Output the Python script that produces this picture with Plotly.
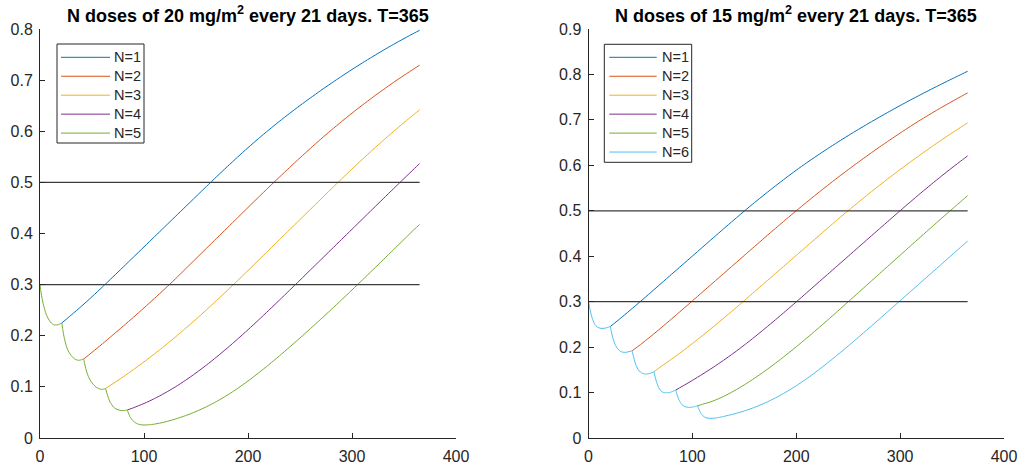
import plotly.graph_objects as go

# ---------------- data ----------------
COLORS = ["#0072BD", "#D95319", "#EDB120", "#7E2F8E", "#77AC30", "#4DBEEE"]
THRESH = [0.3, 0.5]
THRESH_T = [0, 365]
SEG_OFFSETS = [0, 1, 2, 3, 4, 5, 6, 8, 10, 12, 14, 16, 18, 20, 21]

# ---- left chart: 20 mg/m2 ----
L_DOSE_DAYS = [0, 21, 42, 63, 84]
L_SEG1 = [0.300, 0.285, 0.273, 0.263, 0.255, 0.248, 0.242, 0.233, 0.227, 0.223, 0.221, 0.221, 0.222, 0.224, 0.225]
L_SEG2 = [0.225, 0.211, 0.199, 0.190, 0.182, 0.176, 0.171, 0.164, 0.159, 0.155, 0.153, 0.152, 0.1525, 0.154, 0.1545]
L_SEG3 = [0.1545, 0.145, 0.136, 0.129, 0.123, 0.118, 0.114, 0.108, 0.103, 0.0995, 0.097, 0.0955, 0.0952, 0.0962, 0.097]
L_SEG4 = [0.097, 0.090, 0.083, 0.077, 0.072, 0.068, 0.065, 0.060, 0.057, 0.0553, 0.054, 0.0535, 0.0537, 0.0544, 0.0548]
L_SEG5 = [0.0548, 0.049, 0.044, 0.040, 0.037, 0.0345, 0.0325, 0.0295, 0.0275, 0.0263, 0.0256, 0.0254, 0.0255, 0.0257, 0.0258]

L_T1 = [21, 30, 40, 50, 60, 70, 80, 90, 100, 110, 120, 130, 140, 150, 160, 170, 180, 190, 200, 210, 220, 230, 240, 250, 260, 270, 280, 290, 300, 310, 320, 330, 340, 350, 360, 365]
L_V1 = [0.225, 0.2405, 0.258, 0.2764, 0.2954, 0.3148, 0.3344, 0.3541, 0.3738, 0.3935, 0.4132, 0.4329, 0.4526, 0.4723, 0.492, 0.5115, 0.5307, 0.5495, 0.5678, 0.5855, 0.6026, 0.6191, 0.635, 0.6503, 0.6652, 0.6797, 0.6938, 0.7075, 0.7208, 0.7337, 0.7462, 0.7583, 0.770, 0.7813, 0.7922, 0.7975]
L_T2 = [42, 50, 60, 70, 80, 90, 100, 110, 120, 130, 140, 150, 160, 170, 180, 190, 200, 210, 220, 230, 240, 250, 260, 270, 280, 290, 300, 310, 320, 330, 340, 350, 360, 365]
L_V2 = [0.1545, 0.1675, 0.1843, 0.2014, 0.2188, 0.2365, 0.2545, 0.2729, 0.2917, 0.3109, 0.3309, 0.3509, 0.3709, 0.3909, 0.4109, 0.4309, 0.4509, 0.4708, 0.4905, 0.5099, 0.5291, 0.548, 0.5665, 0.5846, 0.6021, 0.619, 0.6354, 0.6512, 0.6665, 0.6813, 0.6956, 0.7094, 0.7227, 0.7293]
L_T3 = [63, 70, 80, 90, 100, 110, 120, 130, 140, 150, 160, 170, 180, 190, 200, 210, 220, 230, 240, 250, 260, 270, 280, 290, 300, 310, 320, 330, 340, 350, 360, 365]
L_V3 = [0.097, 0.106, 0.1197, 0.134, 0.1489, 0.1644, 0.1805, 0.1972, 0.2145, 0.2323, 0.2506, 0.2693, 0.2884, 0.3078, 0.3275, 0.3474, 0.3674, 0.3874, 0.4074, 0.4273, 0.4472, 0.4672, 0.4871, 0.5068, 0.5262, 0.5452, 0.5638, 0.582, 0.5997, 0.6169, 0.6336, 0.6418]
L_T4 = [84, 90, 100, 110, 120, 130, 140, 150, 160, 170, 180, 190, 200, 210, 220, 230, 240, 250, 260, 270, 280, 290, 300, 310, 320, 330, 340, 350, 360, 365]
L_V4 = [0.0548, 0.0593, 0.0675, 0.077, 0.0878, 0.0998, 0.113, 0.1273, 0.1426, 0.1588, 0.1758, 0.1935, 0.2118, 0.2306, 0.2498, 0.2693, 0.289, 0.3088, 0.3287, 0.3486, 0.3685, 0.3884, 0.4083, 0.4282, 0.4481, 0.468, 0.4878, 0.5075, 0.527, 0.5367]
L_T5 = [105, 110, 115, 120, 125, 130, 140, 150, 160, 170, 180, 190, 200, 210, 220, 230, 240, 250, 260, 270, 280, 290, 300, 310, 320, 330, 340, 350, 360, 365]
L_V5 = [0.0258, 0.0272, 0.029, 0.0313, 0.034, 0.037, 0.0438, 0.0518, 0.0611, 0.0717, 0.0837, 0.097, 0.1115, 0.127, 0.1433, 0.1603, 0.1778, 0.1957, 0.2139, 0.2324, 0.2512, 0.2703, 0.2896, 0.3091, 0.3288, 0.3486, 0.3685, 0.3884, 0.4083, 0.4175]

# ---- right chart: 15 mg/m2 ----
R_DOSE_DAYS = [0, 21, 42, 63, 84, 105]
R_SEG1 = [0.300, 0.288, 0.277, 0.268, 0.261, 0.255, 0.250, 0.245, 0.2425, 0.2413, 0.2412, 0.2418, 0.2430, 0.2445, 0.2452]
R_SEG2 = [0.2452, 0.234, 0.224, 0.216, 0.209, 0.204, 0.200, 0.194, 0.1905, 0.1888, 0.1885, 0.1890, 0.1900, 0.1913, 0.192]
R_SEG3 = [0.192, 0.182, 0.173, 0.165, 0.159, 0.154, 0.150, 0.145, 0.1422, 0.141, 0.1408, 0.1415, 0.1428, 0.1448, 0.146]
R_SEG4 = [0.146, 0.136, 0.127, 0.120, 0.114, 0.109, 0.1055, 0.1015, 0.0998, 0.0995, 0.0998, 0.1008, 0.1025, 0.1045, 0.1056]
R_SEG5 = [0.1056, 0.0975, 0.0905, 0.0848, 0.080, 0.0763, 0.0735, 0.0700, 0.0682, 0.0675, 0.0674, 0.0680, 0.0690, 0.0703, 0.0710]
R_SEG6 = [0.0710, 0.065, 0.0598, 0.0555, 0.052, 0.0493, 0.0472, 0.0448, 0.0437, 0.0433, 0.0433, 0.0436, 0.0442, 0.0450, 0.0455]

R_T1 = [21, 30, 40, 50, 60, 70, 80, 90, 100, 110, 120, 130, 140, 150, 160, 170, 180, 190, 200, 210, 220, 230, 240, 250, 260, 270, 280, 290, 300, 310, 320, 330, 340, 350, 360, 365]
R_V1 = [0.2452, 0.262, 0.281, 0.3005, 0.3203, 0.3403, 0.3603, 0.3803, 0.4003, 0.4203, 0.4403, 0.4602, 0.4799, 0.4993, 0.5183, 0.5368, 0.5548, 0.5723, 0.5893, 0.6055, 0.6212, 0.6364, 0.6511, 0.6654, 0.6793, 0.6928, 0.706, 0.7189, 0.7315, 0.7438, 0.7558, 0.7675, 0.779, 0.7903, 0.8014, 0.807]
R_T2 = [42, 50, 60, 70, 80, 90, 100, 110, 120, 130, 140, 150, 160, 170, 180, 190, 200, 210, 220, 230, 240, 250, 260, 270, 280, 290, 300, 310, 320, 330, 340, 350, 360, 365]
R_V2 = [0.192, 0.2055, 0.2237, 0.2427, 0.2621, 0.2818, 0.3017, 0.3217, 0.3417, 0.3617, 0.3817, 0.4017, 0.4217, 0.4416, 0.4613, 0.4808, 0.500, 0.5189, 0.5374, 0.5555, 0.5732, 0.5905, 0.6074, 0.6239, 0.640, 0.6557, 0.671, 0.6859, 0.7004, 0.7142, 0.7276, 0.7406, 0.7532, 0.7594]
R_T3 = [63, 70, 80, 90, 100, 110, 120, 130, 140, 150, 160, 170, 180, 190, 200, 210, 220, 230, 240, 250, 260, 270, 280, 290, 300, 310, 320, 330, 340, 350, 360, 365]
R_V3 = [0.146, 0.1575, 0.1735, 0.1903, 0.2078, 0.2259, 0.2445, 0.2635, 0.2828, 0.3024, 0.3222, 0.3421, 0.362, 0.3819, 0.4018, 0.4217, 0.4416, 0.4614, 0.481, 0.5003, 0.5192, 0.5377, 0.5558, 0.5735, 0.5908, 0.6077, 0.6242, 0.6403, 0.656, 0.6713, 0.6862, 0.6936]
R_T4 = [84, 90, 100, 110, 120, 130, 140, 150, 160, 170, 180, 190, 200, 210, 220, 230, 240, 250, 260, 270, 280, 290, 300, 310, 320, 330, 340, 350, 360, 365]
R_V4 = [0.1056, 0.1133, 0.1268, 0.1408, 0.1555, 0.171, 0.1873, 0.2045, 0.2225, 0.2411, 0.2602, 0.2797, 0.2995, 0.3195, 0.3396, 0.3597, 0.3798, 0.3999, 0.420, 0.4401, 0.4602, 0.4802, 0.5001, 0.5198, 0.5392, 0.5582, 0.5767, 0.5947, 0.6122, 0.6208]
R_T5 = [105, 110, 120, 130, 140, 150, 160, 170, 180, 190, 200, 210, 220, 230, 240, 250, 260, 270, 280, 290, 300, 310, 320, 330, 340, 350, 360, 365]
R_V5 = [0.0710, 0.0743, 0.0815, 0.0915, 0.1035, 0.117, 0.1318, 0.1477, 0.1646, 0.1823, 0.2007, 0.2197, 0.2392, 0.2591, 0.2793, 0.2997, 0.3202, 0.3407, 0.3612, 0.3817, 0.4022, 0.4227, 0.4431, 0.4634, 0.4836, 0.5036, 0.5234, 0.5333]
R_T6 = [126, 130, 140, 150, 160, 170, 180, 190, 200, 210, 220, 230, 240, 250, 260, 270, 280, 290, 300, 310, 320, 330, 340, 350, 360, 365]
R_V6 = [0.0455, 0.0474, 0.0528, 0.0595, 0.0676, 0.0772, 0.0883, 0.1009, 0.115, 0.1305, 0.1472, 0.1649, 0.1834, 0.2025, 0.222, 0.2418, 0.2618, 0.2819, 0.3021, 0.3223, 0.3425, 0.3627, 0.3829, 0.4031, 0.4233, 0.4334]

L_SEGS = [L_SEG1, L_SEG2, L_SEG3, L_SEG4, L_SEG5]
L_REC = [(L_T1, L_V1), (L_T2, L_V2), (L_T3, L_V3), (L_T4, L_V4), (L_T5, L_V5)]
R_SEGS = [R_SEG1, R_SEG2, R_SEG3, R_SEG4, R_SEG5, R_SEG6]
R_REC = [(R_T1, R_V1), (R_T2, R_V2), (R_T3, R_V3), (R_T4, R_V4), (R_T5, R_V5), (R_T6, R_V6)]

LABELS = ["N=1", "N=2", "N=3", "N=4", "N=5", "N=6"]


def build_curve(dose_days, segs, rec, n, full):
    """Curve for N doses. The dosing dips before day 21*N are shared by all
    curves and are hidden under the curve with the most doses, so only that
    curve draws them (full=True); the others start at their last dip."""
    xs, ys = [], []
    if full:
        for k in range(n):
            xs += [dose_days[k] + o for o in SEG_OFFSETS]
            ys += segs[k]
        rt, rv = rec[n - 1]
        xs += rt[1:]
        ys += rv[1:]
    else:
        rt, rv = rec[n - 1]
        xs += list(rt)
        ys += list(rv)
    return xs, ys


W, H = 1019, 468
AX = "#262626"
FONT = "Liberation Sans, Arial, Helvetica, sans-serif"

fig = go.Figure()

panels = [
    dict(dose=L_DOSE_DAYS, segs=L_SEGS, rec=L_REC, xa="x", ya="y"),
    dict(dose=R_DOSE_DAYS, segs=R_SEGS, rec=R_REC, xa="x2", ya="y2"),
]
for p in panels:
    nmax = len(p["segs"])
    for n in range(1, nmax + 1):
        xs, ys = build_curve(p["dose"], p["segs"], p["rec"], n, full=(n == nmax))
        fig.add_trace(go.Scatter(x=xs, y=ys, mode="lines", name=LABELS[n - 1],
                                 line=dict(color=COLORS[n - 1], width=1, shape="spline", smoothing=0.8),
                                 xaxis=p["xa"], yaxis=p["ya"], showlegend=False,
                                 hoverinfo="skip"))
    for th in THRESH:
        fig.add_trace(go.Scatter(x=THRESH_T, y=[th, th], mode="lines",
                                 line=dict(color="#3c3c3c", width=1.2),
                                 xaxis=p["xa"], yaxis=p["ya"], showlegend=False,
                                 hoverinfo="skip"))


def px_x(x):
    return x / W


def px_y(y):
    return 1 - y / H


axis_common = dict(showgrid=False, zeroline=False, showline=True, linecolor=AX,
                   linewidth=1, ticks="inside", ticklen=5, tickcolor=AX, tickwidth=1,
                   tickfont=dict(family=FONT, size=16, color=AX), mirror=False,
                   automargin=False)

fig.update_layout(
    width=W, height=H,
    paper_bgcolor="white", plot_bgcolor="white",
    margin=dict(l=0, r=0, t=0, b=0, autoexpand=False),
    showlegend=False,
    xaxis=dict(domain=[px_x(40), px_x(456)], range=[0, 400], tickvals=[0, 100, 200, 300, 400],
               anchor="y", ticklabelstandoff=4, **axis_common),
    yaxis=dict(domain=[px_y(438), px_y(29)], range=[0, 0.8],
               tickvals=[0, 0.1, 0.2, 0.3, 0.4, 0.5, 0.6, 0.7, 0.8],
               ticktext=["0", "0.1", "0.2", "0.3", "0.4", "0.5", "0.6", "0.7", "0.8"],
               anchor="x", ticklabelstandoff=3, **axis_common),
    xaxis2=dict(domain=[px_x(588.5), px_x(1004)], range=[0, 400], tickvals=[0, 100, 200, 300, 400],
                anchor="y2", ticklabelstandoff=4, **axis_common),
    yaxis2=dict(domain=[px_y(438), px_y(29)], range=[0, 0.9],
                tickvals=[0, 0.1, 0.2, 0.3, 0.4, 0.5, 0.6, 0.7, 0.8, 0.9],
                ticktext=["0", "0.1", "0.2", "0.3", "0.4", "0.5", "0.6", "0.7", "0.8", "0.9"],
                anchor="x2", ticklabelstandoff=3, **axis_common),
)

# titles
titles = [("N doses of 20 mg/m<sup>2</sup> every 21 days. T=365", 248),
          ("N doses of 15 mg/m<sup>2</sup> every 21 days. T=365", 796)]
for txt, cx in titles:
    fig.add_annotation(text="<b>" + txt + "</b>", x=px_x(cx), y=px_y(15), xref="paper", yref="paper",
                       xanchor="center", yanchor="middle", showarrow=False,
                       font=dict(family=FONT, size=18, color="black"))

# legends (drawn manually to match MATLAB style)
legends = [
    dict(box=(57, 44, 144, 143), line=(61, 110), text_x=112, n=5),
    dict(box=(604.3, 44.3, 691.7, 162.3), line=(609.3, 656.7), text_x=660, n=6),
]
for lg in legends:
    x0, y0, x1, y1 = lg["box"]
    fig.add_shape(type="rect", xref="paper", yref="paper",
                  x0=px_x(x0), y0=px_y(y1), x1=px_x(x1), y1=px_y(y0),
                  line=dict(color=AX, width=1), fillcolor="white", layer="above")
    for i in range(lg["n"]):
        yy = 57.3 + i * 18.95
        fig.add_shape(type="line", xref="paper", yref="paper",
                      x0=px_x(lg["line"][0]), x1=px_x(lg["line"][1]), y0=px_y(yy), y1=px_y(yy),
                      line=dict(color=COLORS[i], width=1), layer="above")
        fig.add_annotation(text=LABELS[i], x=px_x(lg["text_x"]), y=px_y(yy), xref="paper", yref="paper",
                           xanchor="left", yanchor="middle", showarrow=False,
                           font=dict(family=FONT, size=14.5, color=AX))

fig.write_html("out.html", config={"displayModeBar": False},
               post_script="document.body.style.margin='0px';document.body.style.overflow='hidden';")
